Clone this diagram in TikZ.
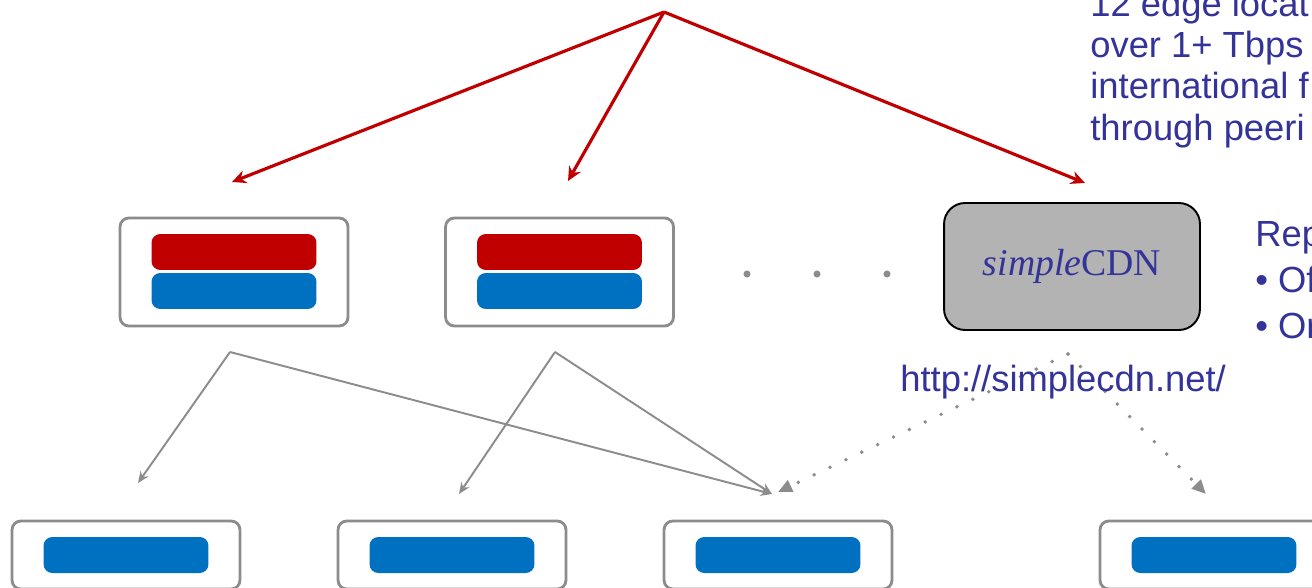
\documentclass[tikz,border=0pt]{standalone}
\usepackage{fontspec}
\setmainfont{Liberation Sans}
\newfontfamily\cdnfont{Liberation Serif}
\usetikzlibrary{arrows.meta}
\definecolor{slideblue}{RGB}{51,51,153}
\definecolor{cdnred}{RGB}{192,0,0}
\definecolor{cdnblue}{RGB}{0,112,192}
\definecolor{linkgray}{RGB}{140,140,140}
\definecolor{cdngray}{RGB}{179,179,179}

\tikzset{
  server/.style={draw=linkgray, line width=1.6pt, rounded corners=5pt,
    minimum width=4.56cm, minimum height=2.16cm, inner sep=0pt},
  leaf/.style={server, minimum height=1.36cm},
  bar/.style={rounded corners=5pt, minimum width=3.3cm, minimum height=0.72cm, inner sep=0pt},
  redbar/.style={bar, fill=cdnred},
  bluebar/.style={bar, fill=cdnblue},
  gapdot/.style={circle, fill=linkgray, minimum size=4pt, inner sep=0pt},
  cdnbox/.style={draw=black, line width=1.1pt, fill=cdngray, rounded corners=12pt,
    minimum width=5.12cm, minimum height=2.54cm, text=slideblue,
    font=\cdnfont\fontsize{21.5}{24}\selectfont},
  redlink/.style={draw=cdnred, line width=1.8pt, -{Stealth[length=8pt,width=7.5pt]}},
  graylink/.style={draw=linkgray, line width=1.1pt, -{Stealth[length=6.5pt,width=5.5pt]}},
  dotlink/.style={draw=linkgray, line width=2.2pt, line cap=round,
    dash pattern=on 0pt off 10pt, -{Triangle[length=8pt,width=7pt]}},
  slidetext/.style={font=\fontsize{20.7}{24}\selectfont, text=slideblue,
    anchor=base west, inner sep=0pt},
}

\begin{document}
\begin{tikzpicture}[x=0.02cm,y=-0.02cm]
\useasboundingbox (0,0) rectangle (1312,588);

% first tier of caches
\node[server] (top1) at (234,272) {};
\node[redbar] (top1r) at (234,252) {};
\node[bluebar] (top1b) at (234,291) {};
\node[server] (top2) at (559.5,272) {};
\node[redbar] (top2r) at (559.5,252) {};
\node[bluebar] (top2b) at (559.5,291) {};
\node[gapdot] (gap1) at (747,274) {};
\node[gapdot] (gap2) at (817,274) {};
\node[gapdot] (gap3) at (887,274) {};
\node[cdnbox] (cdn) at (1072,266.5) {{\itshape simple}CDN};

% red links from the top
\coordinate (origin) at (664,12);
\coordinate (in1) at (232,182);
\coordinate (in2) at (568,181);
\coordinate (in3) at (1085,183);
\draw[redlink] (origin) -- (in1);
\draw[redlink] (origin) -- (in2);
\draw[redlink] (origin) -- (in3);

% second tier
\node[leaf] (low1) at (126,555) {};
\node[bluebar] (low1b) at (126,555) {};
\node[leaf] (low2) at (452,555) {};
\node[bluebar] (low2b) at (452,555) {};
\node[leaf] (low3) at (778,555) {};
\node[bluebar] (low3b) at (778,555) {};
\node[leaf] (low4) at (1214,555) {};
\node[bluebar] (low4b) at (1214,555) {};

% grey links between the tiers
\coordinate (out1) at (230,352);
\coordinate (out2) at (555,352);
\coordinate (hit1) at (138,483);
\coordinate (hit2) at (459,494);
\coordinate (hit3) at (772,494);
\draw[graylink] (out1) -- (hit1);
\draw[graylink] (out1) -- (hit3);
\draw[graylink] (out2) -- (hit2);
\draw[graylink] (out2) -- (hit3);

% dotted links out of the cdn
\coordinate (cdnout) at (1068,354);
\coordinate (hit4) at (778,492);
\coordinate (hit5) at (1206,494);
\draw[dotlink] (cdnout) -- (hit4);
\draw[dotlink] (cdnout) -- (hit5);

\node[slidetext] (url) at (900,391) {http://simplecdn.net/};

% text on the right
\node[slidetext] (edge1) at (1090,17) {12 edge locat};
\node[slidetext] (edge2) at (1090,58) {over 1+ Tbps};
\node[slidetext] (edge3) at (1090,99) {international f};
\node[slidetext] (edge4) at (1090,140) {through peeri};
\node[slidetext] (rep1) at (1255,246) {Rep};
\node[slidetext] (rep2) at (1255,292) {\textbullet\ Of};
\node[slidetext] (rep3) at (1255,338) {\textbullet\ Or};
\end{tikzpicture}
\end{document}
